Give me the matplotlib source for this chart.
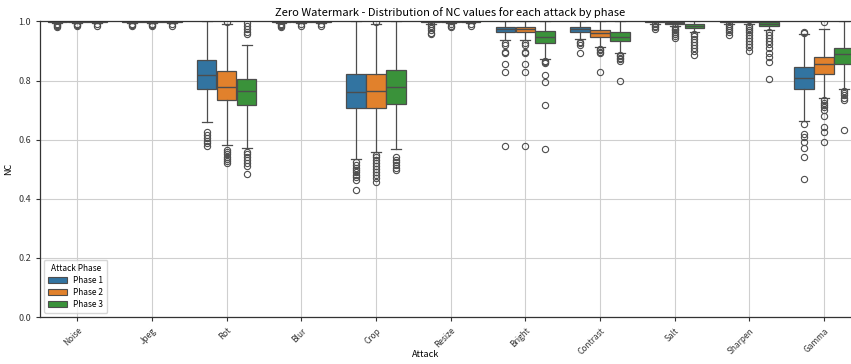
import numpy as np
import matplotlib
matplotlib.use("Agg")
import matplotlib.pyplot as plt
from matplotlib.patches import Patch

plt.rcParams['font.family'] = ['Noto Sans CJK KR', 'DejaVu Sans']

attacks = ["Noise", "Jpeg", "Rot", "Blur", "Crop", "Resize",
           "Bright", "Contrast", "Salt", "Sharpen", "Gamma"]
phases = ["Phase 1", "Phase 2", "Phase 3"]

# box statistics, one list per phase
q1 = [
    [0.998, 0.998, 0.771, 0.998, 0.707, 0.997, 0.964, 0.964, 0.997, 0.997, 0.773],
    [0.998, 0.998, 0.733, 0.998, 0.708, 0.998, 0.964, 0.947, 0.990, 0.997, 0.823],
    [0.998, 0.998, 0.716, 0.998, 0.720, 0.998, 0.928, 0.934, 0.979, 0.986, 0.857],
]
med = [
    [1.0, 1.0, 0.819, 1.0, 0.761, 1.0, 0.975, 0.975, 1.0, 1.0, 0.810],
    [1.0, 1.0, 0.780, 1.0, 0.765, 1.0, 0.975, 0.960, 0.995, 1.0, 0.857],
    [1.0, 1.0, 0.765, 1.0, 0.778, 1.0, 0.949, 0.949, 0.985, 0.993, 0.889],
]
q3 = [
    [1.0, 1.0, 0.868, 1.0, 0.821, 1.0, 0.983, 0.983, 1.0, 1.0, 0.846],
    [1.0, 1.0, 0.834, 1.0, 0.823, 1.0, 0.983, 0.972, 0.998, 1.0, 0.879],
    [1.0, 1.0, 0.807, 1.0, 0.837, 1.0, 0.967, 0.964, 0.992, 0.997, 0.911],
]
whislo = [
    [0.994, 0.994, 0.660, 0.995, 0.536, 0.993, 0.936, 0.941, 0.993, 0.993, 0.663],
    [0.994, 0.994, 0.581, 0.994, 0.558, 0.995, 0.936, 0.913, 0.985, 0.993, 0.742],
    [0.995, 0.995, 0.573, 0.995, 0.567, 0.995, 0.874, 0.893, 0.964, 0.972, 0.773],
]
whishi = [
    [1.0, 1.0, 1.0, 1.0, 1.0, 1.0, 1.0, 1.0, 1.0, 1.0, 0.958],
    [1.0, 1.0, 0.990, 1.0, 0.993, 1.0, 1.0, 1.0, 1.0, 1.0, 0.975],
    [1.0, 1.0, 0.919, 1.0, 1.0, 1.0, 1.0, 1.0, 1.0, 1.0, 1.0],
]
fliers = [
    [
        [0.99, 0.987, 0.984, 0.981],
        [0.99, 0.987, 0.985],
        [0.625, 0.615, 0.605, 0.597, 0.59, 0.58],
        [0.99, 0.987, 0.984, 0.981],
        [0.525, 0.515, 0.505, 0.497, 0.49, 0.482, 0.475, 0.465, 0.431],
        [0.99, 0.985, 0.978, 0.97, 0.962, 0.957],
        [0.928, 0.92, 0.898, 0.894, 0.857, 0.829, 0.579],
        [0.932, 0.927, 0.92, 0.893],
        [0.99, 0.985, 0.98, 0.975],
        [0.99, 0.985, 0.978, 0.97, 0.963, 0.955],
        [0.965, 0.962, 0.654, 0.618, 0.609, 0.592, 0.573, 0.542, 0.466],
    ],
    [
        [0.99, 0.987, 0.984],
        [0.99, 0.987, 0.985],
        [0.998, 0.565, 0.557, 0.55, 0.543, 0.535, 0.527, 0.52],
        [0.99, 0.986],
        [0.999, 0.547, 0.54, 0.53, 0.52, 0.51, 0.5, 0.49, 0.48, 0.47, 0.458],
        [0.99, 0.985, 0.982],
        [0.928, 0.92, 0.898, 0.894, 0.857, 0.829, 0.579],
        [0.908, 0.903, 0.898, 0.894, 0.829],
        [0.98, 0.975, 0.97, 0.965, 0.958, 0.952, 0.945],
        [0.985, 0.978, 0.97, 0.963, 0.955, 0.945, 0.935, 0.925, 0.912, 0.90],
        [0.998, 0.733, 0.725, 0.717, 0.71, 0.70, 0.679, 0.643, 0.626, 0.592],
    ],
    [
        [0.99, 0.986],
        [0.99, 0.986],
        [0.995, 0.985, 0.975, 0.965, 0.958, 0.558, 0.55, 0.54, 0.53, 0.52, 0.51, 0.485],
        [0.99, 0.986],
        [0.54, 0.532, 0.525, 0.515, 0.505, 0.497],
        [0.99, 0.986],
        [0.866, 0.862, 0.858, 0.818, 0.795, 0.716, 0.570],
        [0.888, 0.882, 0.877, 0.872, 0.867, 0.798],
        [0.958, 0.95, 0.94, 0.93, 0.92, 0.91, 0.9, 0.885],
        [0.964, 0.955, 0.945, 0.935, 0.925, 0.91, 0.895, 0.88, 0.862, 0.804],
        [0.765, 0.758, 0.75, 0.742, 0.735, 0.634],
    ],
]

colors = ['#3274a1', '#e1812c', '#3a923a']
line_col = '#4d4d4d'

fig = plt.figure(figsize=(8.51, 3.64), dpi=100)
ax = fig.add_axes([0.047, 0.129, 0.965, 0.812])

x = np.arange(len(attacks))
bw = 0.8 / 3
for p in range(3):
    stats = []
    for i in range(len(attacks)):
        stats.append(dict(med=med[p][i], q1=q1[p][i], q3=q3[p][i],
                          whislo=whislo[p][i], whishi=whishi[p][i],
                          fliers=fliers[p][i]))
    ax.bxp(stats, positions=x + (p - 1) * bw, widths=bw * 0.98,
           capwidths=bw * 0.5, patch_artist=True, manage_ticks=False,
           boxprops=dict(facecolor=colors[p], edgecolor=line_col, linewidth=0.9),
           medianprops=dict(color=line_col, linewidth=1),
           whiskerprops=dict(color=line_col, linewidth=0.9),
           capprops=dict(color=line_col, linewidth=0.9),
           flierprops=dict(marker='o', markerfacecolor='none',
                           markeredgecolor=line_col, markersize=4.5,
                           markeredgewidth=0.8))

ax.set_xlim(-0.5, len(attacks) - 0.5)
ax.set_ylim(0, 1.0)
ax.set_xticks(x)
ax.set_xticklabels(attacks, rotation=45, ha='right', rotation_mode='anchor', fontsize=6)
ax.set_yticks(np.arange(0, 1.01, 0.2))
ax.set_yticklabels([f"{v:.1f}" for v in np.arange(0, 1.01, 0.2)], fontsize=6.5)
ax.tick_params(length=3, width=0.8, colors='#333333')
ax.grid(True, color='#cfcfcf', linewidth=0.8)
ax.set_axisbelow(True)
for s in ax.spines.values():
    s.set_color('#333333')
    s.set_linewidth(0.9)

ax.set_title("Zero Watermark - Distribution of NC values for each attack by phase",
             fontsize=8, pad=4)
ax.set_xlabel("Attack", fontsize=6.5)
ax.xaxis.set_label_coords(0.47, -0.11)
ax.set_ylabel("NC", fontsize=6.5)

handles = [Patch(facecolor=colors[p], edgecolor=line_col, linewidth=0.8, label=phases[p])
           for p in range(3)]
leg = ax.legend(handles=handles, title="Attack Phase", loc='lower left',
                fontsize=6, title_fontsize=6, handlelength=2.2, handleheight=0.8,
                borderpad=0.5, labelspacing=0.35, framealpha=0.8)

fig.savefig("out.png", dpi=100)
